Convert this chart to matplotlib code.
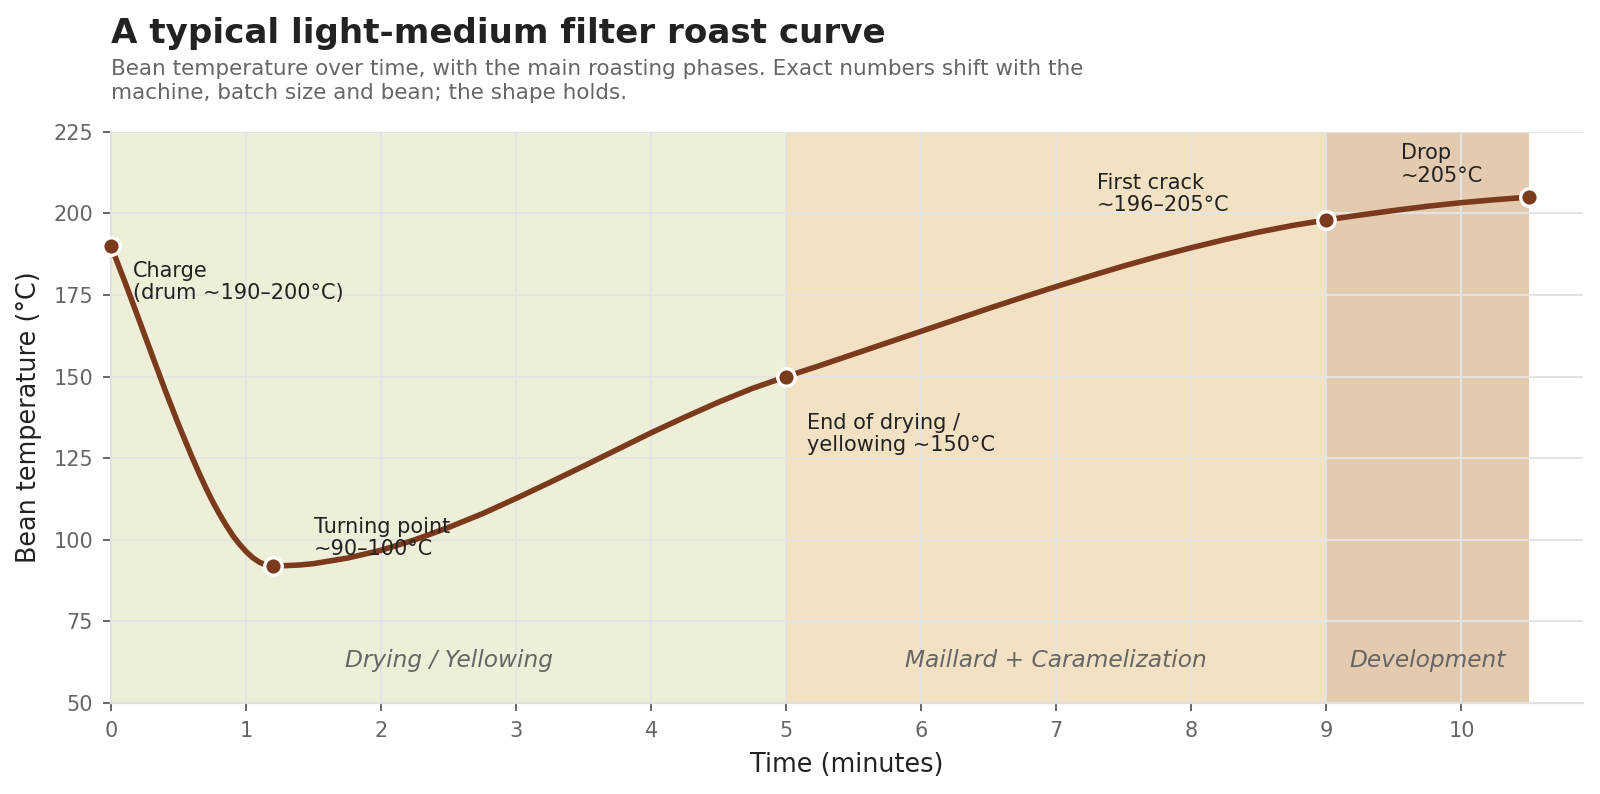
import matplotlib
matplotlib.use("Agg")
import matplotlib.pyplot as plt

# bean temperature (minutes, deg C)
time_min = [0.0, 0.1, 0.2, 0.3, 0.4, 0.5, 0.6, 0.65, 0.7, 0.75, 0.8, 0.85, 0.9, 0.95,
            1.0, 1.05, 1.1, 1.15, 1.2,
            1.3, 1.4, 1.5, 1.75, 2.0, 2.25, 2.5, 2.75, 3.0, 3.25, 3.5, 3.75, 4.0,
            4.25, 4.5, 4.75, 5.0,
            5.25, 5.5, 5.75, 6.0, 6.25, 6.5, 6.75, 7.0, 7.25, 7.5, 7.75, 8.0,
            8.25, 8.5, 8.75, 9.0,
            9.25, 9.5, 9.75, 10.0, 10.25, 10.5]
bean_temp = [190.0, 179.3, 168.2, 157.0, 145.9, 135.3, 125.3, 120.6, 116.1, 111.9, 108.1, 104.6, 101.4, 98.7,
             96.4, 94.5, 93.1, 92.3, 92.0,
             92.1, 92.3, 92.7, 94.4, 96.8, 100.0, 103.8, 108.0, 112.7, 117.6, 122.6, 127.7, 132.8,
             137.6, 142.2, 146.4, 150.0,
             153.4, 156.9, 160.4, 163.9, 167.4, 170.9, 174.3, 177.6, 180.8, 183.9, 186.8, 189.5,
             192.0, 194.3, 196.3, 198.0,
             199.5, 200.9, 202.2, 203.3, 204.2, 205.0]

# key events on the curve
event_time = [0, 1.2, 5, 9, 10.5]
event_temp = [190, 92, 150, 198, 205]
event_text = ["Charge\n(drum ~190–200°C)", "Turning point\n~90–100°C",
              "End of drying /\nyellowing ~150°C", "First crack\n~196–205°C",
              "Drop\n~205°C"]
event_label_pos = [(0.16, 185.5), (1.5, 107), (5.15, 139), (7.3, 212.5), (9.55, 221.5)]

# roast phases
phase_names = ["Drying / Yellowing", "Maillard + Caramelization", "Development"]
phase_start = [0, 5, 9]
phase_end = [5, 9, 10.5]
phase_colors = ["#EEEFD8", "#F2E2C3", "#E4CBB0"]

brown = "#7A3A1B"
dark = "#222222"
grey = "#666666"

fig = plt.figure(figsize=(8, 3.97), dpi=200)
ax = fig.add_axes([0.0694, 0.1146, 0.92, 0.7194])

for name, a, b, c in zip(phase_names, phase_start, phase_end, phase_colors):
    ax.axvspan(a, b, color=c, lw=0, zorder=0)
    ax.text((a + b) / 2, 63, name, ha="center", va="center", fontsize=8.4,
            style="italic", color=grey, zorder=3)

ax.plot(time_min, bean_temp, color=brown, lw=2.0, solid_capstyle="round",
        solid_joinstyle="round", zorder=4)
ax.plot(event_time, event_temp, ls="none", marker="o", ms=6.3, mfc=brown,
        mec="white", mew=1.2, zorder=5, clip_on=False)

for txt, (tx, ty) in zip(event_text, event_label_pos):
    ax.text(tx, ty, txt, ha="left", va="top", fontsize=7.5, color=dark,
            linespacing=1.15, zorder=6)

ax.set_xlim(0, 10.9)
ax.set_ylim(50, 225)
ax.set_xticks(range(0, 11))
ax.set_yticks(range(50, 226, 25))
ax.grid(True, color="#E4E4E4", lw=0.7, zorder=1)
ax.set_axisbelow(True)
for s in ["top", "right"]:
    ax.spines[s].set_visible(False)
for s in ["left", "bottom"]:
    ax.spines[s].set_color("#E0E0E0")
    ax.spines[s].set_linewidth(0.8)
ax.tick_params(colors=grey, labelsize=7.5, length=3, width=0.7)
ax.set_xlabel("Time (minutes)", fontsize=9.2, color=dark)
ax.set_ylabel("Bean temperature (°C)", fontsize=9.2, color=dark)

fig.text(0.0694, 0.958, "A typical light-medium filter roast curve", fontsize=12.3,
         fontweight="bold", color=dark, ha="left", va="center")
fig.text(0.0694, 0.898, "Bean temperature over time, with the main roasting phases. "
         "Exact numbers shift with the\nmachine, batch size and bean; the shape holds.",
         fontsize=7.75, color=grey, ha="left", va="center", linespacing=1.3)

fig.savefig("out.png", dpi=200)
